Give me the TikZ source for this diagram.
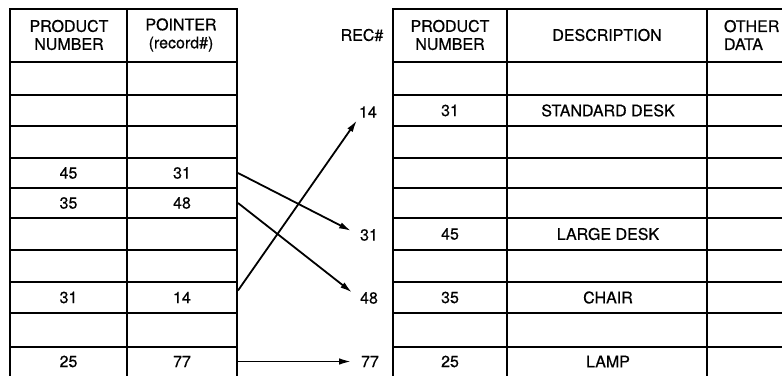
\documentclass[tikz,border=0pt]{standalone}
\usepackage{fontspec}
\setmainfont{TeX Gyre Heros}[FakeBold=0.6]
\usetikzlibrary{arrows.meta}
\begin{document}
\begin{tikzpicture}[x=1pt,y=-1pt, line width=2pt,
  txt/.style={font=\fontsize{16}{18}\selectfont, inner sep=0pt, align=center},
  cella/.style={txt, minimum width=117pt, minimum height=31pt},
  cellb/.style={txt, minimum width=110pt, minimum height=31pt},
  rec/.style={txt},
  ptr/.style={-{Latex[length=12pt,width=6.5pt]}, line width=1.8pt}]
\useasboundingbox (0,0) rectangle (782,375);
% left table grid
\draw (10,376) -- (10,9) -- (237,9) -- (237,376);
\draw (127,9) -- (127,376);
\foreach \y in {62,95,126,158,188,218,250,282,313,347} \draw (10,\y) -- (237,\y);
% right table grid
\draw (393,376) -- (393,9) -- (783,9);
\draw (507,9) -- (507,376);
\draw (707,9) -- (707,376);
\foreach \y in {62,95,126,158,188,218,250,282,313,347} \draw (393,\y) -- (783,\y);
% left table headers
\node[txt] (lh1) at (69,35) {PRODUCT\\NUMBER};
\node[txt] (lh2) at (181,35) {POINTER\\(record\#)};
% left table cells
\node[cella] (l4a) at (68.5,173) {45};
\node[cellb] (l4b) at (182,173) {31};
\node[cella] (l5a) at (68.5,203) {35};
\node[cellb] (l5b) at (182,203) {48};
\node[cella] (l8a) at (68.5,297.5) {31};
\node[cellb] (l8b) at (182,297.5) {14};
\node[cella] (l10a) at (68.5,361.5) {25};
\node[cellb] (l10b) at (182,361.5) {77};
% record numbers
\node[txt] (rech) at (362,35) {REC\#};
\node[rec] (r14) at (368,112) {14};
\node[rec] (r31) at (369,235) {31};
\node[rec] (r48) at (369,298) {48};
\node[rec] (r77) at (370,361.5) {77};
% right table headers
\node[txt] (rh1) at (450,35) {PRODUCT\\NUMBER};
\node[txt] (rh2) at (607,35) {DESCRIPTION};
\node[txt, align=left, anchor=west] (rh3) at (723,35) {OTHER\\DATA};
% right table cells
\node[txt] (q2a) at (450,110.5) {31};
\node[txt] (q2b) at (608,110.5) {STANDARD DESK};
\node[txt] (q6a) at (450,234) {45};
\node[txt] (q6b) at (608,234) {LARGE DESK};
\node[txt] (q8a) at (450,297.5) {35};
\node[txt] (q8b) at (608,297.5) {CHAIR};
\node[txt] (q10a) at (450,361.5) {25};
\node[txt] (q10b) at (608,361.5) {LAMP};
% pointers
\draw[ptr, shorten >=9pt] (l4b.east) -- (r31.west);
\draw[ptr, shorten >=9pt] (l5b.east) -- (r48.west);
\draw[ptr, shorten >=2pt] ([yshift=7pt]l8b.east) -- (r14.south west);
\draw[ptr, shorten >=9pt] (l10b.east) -- (r77.west);
\end{tikzpicture}
\end{document}
